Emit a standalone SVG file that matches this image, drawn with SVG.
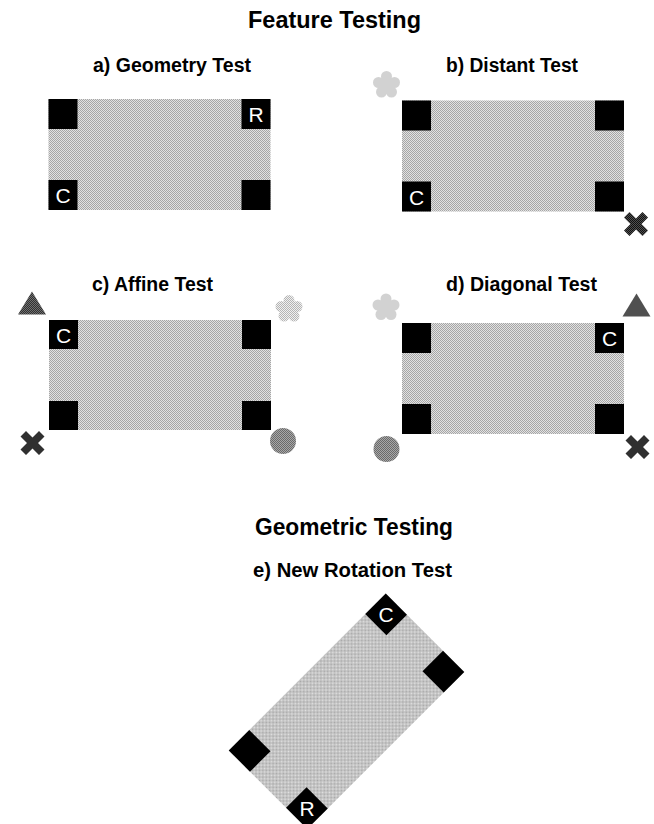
<svg xmlns="http://www.w3.org/2000/svg" width="654" height="824" viewBox="0 0 654 824">
<defs>
<pattern id="dither" width="2" height="2" patternUnits="userSpaceOnUse"><rect width="2" height="2" fill="#e2e2e2"/><rect width="1" height="1" fill="#a6a6a6"/><rect x="1" y="1" width="1" height="1" fill="#a6a6a6"/></pattern>
<pattern id="lightdither" width="2" height="2" patternUnits="userSpaceOnUse"><rect width="2" height="2" fill="#f0f0f0"/><rect width="1" height="1" fill="#b4b4b4"/><rect x="1" y="1" width="1" height="1" fill="#b4b4b4"/></pattern>
<pattern id="darkdither" width="2" height="2" patternUnits="userSpaceOnUse"><rect width="2" height="2" fill="#707070"/><rect width="1" height="1" fill="#303030"/><rect x="1" y="1" width="1" height="1" fill="#303030"/></pattern>
<pattern id="middither" width="2" height="2" patternUnits="userSpaceOnUse"><rect width="2" height="2" fill="#a8a8a8"/><rect width="1" height="1" fill="#6a6a6a"/><rect x="1" y="1" width="1" height="1" fill="#6a6a6a"/></pattern>
<pattern id="xdither" width="2" height="2" patternUnits="userSpaceOnUse"><rect width="2" height="2" fill="#505050"/><rect width="1" height="1" fill="#111"/><rect x="1" y="1" width="1" height="1" fill="#111"/></pattern>
<g id="flower"><circle cx="0" cy="-8.5" r="5.5"/><circle cx="8" cy="-2.5" r="5.5"/><circle cx="5" cy="7" r="5.5"/><circle cx="-5" cy="7" r="5.5"/><circle cx="-8" cy="-2.5" r="5.5"/><circle cx="0" cy="0" r="9"/></g>
<path id="cross" d="M-12,-6.5 L-6.5,-12 L0,-5.5 L6.5,-12 L12,-6.5 L5.5,0 L12,6.5 L6.5,12 L0,5.5 L-6.5,12 L-12,6.5 L-5.5,0 Z"/>
<path id="tri" d="M0,-11.5 L14,11.5 L-14,11.5 Z"/>
</defs>
<style>
.title{font-family:"Liberation Sans",Arial,sans-serif;font-weight:bold;font-size:23px;fill:#000}
.sub{font-family:"Liberation Sans",Arial,sans-serif;font-weight:bold;font-size:20px;fill:#000}
.lbl{font-family:"Liberation Sans",Arial,sans-serif;font-size:21px;fill:#fff;text-anchor:middle}
.area{fill:url(#dither)}
.sq{fill:#000}
.fl{fill:url(#lightdither)}
.tr{fill:url(#darkdither)}
.ci{fill:url(#middither)}
.x{fill:url(#xdither)}
</style>
<rect width="654" height="824" fill="#fff"/>

<text class="title" x="248" y="28" textLength="173" lengthAdjust="spacingAndGlyphs">Feature Testing</text>

<g id="panel-a">
<text class="sub" x="93" y="72" textLength="158" lengthAdjust="spacingAndGlyphs">a) Geometry Test</text>
<rect class="area" x="48.5" y="99" width="222" height="111"/>
<rect class="sq" x="48.5" y="99" width="29" height="30"/>
<rect class="sq" x="241.5" y="99" width="29" height="30"/>
<text class="lbl" x="256" y="122">R</text>
<rect class="sq" x="48.5" y="180" width="29" height="30"/>
<text class="lbl" x="63" y="203">C</text>
<rect class="sq" x="241.5" y="180" width="29" height="30"/>
</g>

<g id="panel-b">
<text class="sub" x="446" y="72" textLength="132" lengthAdjust="spacingAndGlyphs">b) Distant Test</text>
<use href="#flower" class="fl" x="386.5" y="85"/>
<rect class="area" x="402" y="100.5" width="222" height="111"/>
<rect class="sq" x="402" y="100.5" width="29" height="30"/>
<rect class="sq" x="595" y="100.5" width="29" height="30"/>
<rect class="sq" x="402" y="181.5" width="29" height="30"/>
<text class="lbl" x="416.5" y="204.5">C</text>
<rect class="sq" x="595" y="181.5" width="29" height="30"/>
<use href="#cross" class="x" x="636" y="224"/>
</g>

<g id="panel-c">
<text class="sub" x="92" y="291" textLength="121" lengthAdjust="spacingAndGlyphs">c) Affine Test</text>
<use href="#tri" class="tr" x="32" y="303"/>
<use href="#flower" class="fl" x="289" y="309"/>
<rect class="area" x="49" y="320" width="222" height="110"/>
<rect class="sq" x="49" y="320" width="29" height="29"/>
<text class="lbl" x="63.5" y="342.5">C</text>
<rect class="sq" x="242" y="320" width="29" height="29"/>
<rect class="sq" x="49" y="401" width="29" height="29"/>
<rect class="sq" x="242" y="401" width="29" height="29"/>
<use href="#cross" class="x" x="32.5" y="443"/>
<circle class="ci" cx="283" cy="441" r="13"/>
</g>

<g id="panel-d">
<text class="sub" x="446" y="291" textLength="151" lengthAdjust="spacingAndGlyphs">d) Diagonal Test</text>
<use href="#flower" class="fl" x="386" y="307.5"/>
<use href="#tri" class="tr" x="636.5" y="305"/>
<rect class="area" x="402" y="323" width="222" height="111"/>
<rect class="sq" x="402" y="323" width="29" height="30"/>
<rect class="sq" x="595" y="323" width="29" height="30"/>
<text class="lbl" x="609.5" y="346">C</text>
<rect class="sq" x="402" y="404" width="29" height="30"/>
<rect class="sq" x="595" y="404" width="29" height="30"/>
<circle class="ci" cx="386.5" cy="449" r="13"/>
<use href="#cross" class="x" x="637.5" y="447"/>
</g>

<text class="title" x="255" y="535" textLength="198" lengthAdjust="spacingAndGlyphs">Geometric Testing</text>

<g id="panel-e">
<text class="sub" x="253" y="577" textLength="199" lengthAdjust="spacingAndGlyphs">e) New Rotation Test</text>
<g transform="translate(346.5,711.2) rotate(-45)">
<rect class="area" x="-111" y="-55.5" width="222" height="111"/>
<rect class="sq" x="82" y="-55.5" width="29" height="30"/>
<rect class="sq" x="82" y="25.5" width="29" height="30"/>
<rect class="sq" x="-111" y="25.5" width="29" height="30"/>
<rect class="sq" x="-111" y="-55.5" width="29" height="30"/>
</g>
<text class="lbl" x="386" y="622">C</text>
<text class="lbl" x="307" y="816">R</text>
</g>
</svg>
